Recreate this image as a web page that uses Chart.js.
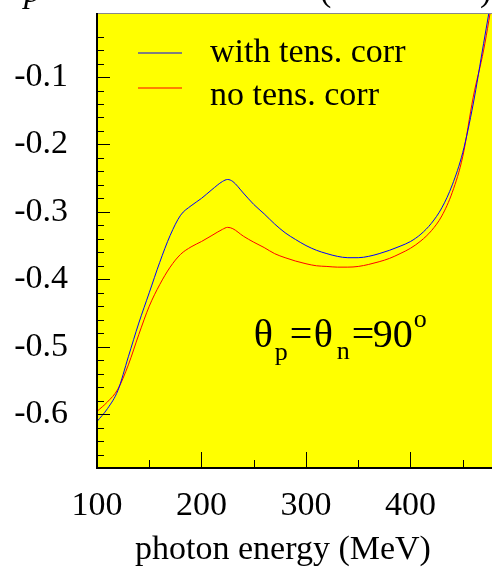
<!DOCTYPE html>
<html>
<head>
<meta charset="utf-8">
<script src="https://cdn.jsdelivr.net/npm/chart.js@4"></script>
<style>
  html, body { margin: 0; padding: 0; background: #fff; }
</style>
</head>
<body>
<canvas id="chart" width="492" height="569"></canvas>
<script>
// photon energy (MeV) and the two asymmetry curves
const energies = [100, 110, 120, 130, 140, 150, 160, 170, 180, 190, 200, 210, 220, 225, 230, 240, 250, 260, 270, 280, 290,
  300, 310, 320, 330, 340, 350, 360, 370, 380, 390, 400, 410, 420, 430, 440, 450, 460, 470, 480];
const withTensCorr = [-0.611, -0.592, -0.565, -0.515, -0.465, -0.420, -0.375, -0.335, -0.305, -0.291, -0.280, -0.267, -0.255, -0.252, -0.255, -0.272, -0.289, -0.303, -0.318, -0.331, -0.341,
  -0.350, -0.357, -0.362, -0.366, -0.368, -0.368, -0.366, -0.362, -0.357, -0.351, -0.344, -0.333, -0.317, -0.294, -0.260, -0.212, -0.140, -0.050, 0.040];
const noTensCorr = [-0.596, -0.582, -0.563, -0.527, -0.482, -0.440, -0.408, -0.382, -0.363, -0.352, -0.344, -0.335, -0.326, -0.323, -0.325, -0.336, -0.345, -0.353, -0.362, -0.368, -0.373,
  -0.377, -0.380, -0.381, -0.382, -0.382, -0.381, -0.378, -0.374, -0.369, -0.362, -0.354, -0.343, -0.328, -0.306, -0.271, -0.218, -0.130, -0.060, 0.030];

const xTicks = [100, 200, 300, 400];
const xMinorTicks = [150, 250, 350, 450];
const yTicks = [-0.6, -0.5, -0.4, -0.3, -0.2, -0.1];
const yMinorTicks = [-0.66, -0.64, -0.62, -0.58, -0.56, -0.54, -0.52, -0.48, -0.46, -0.44, -0.42, -0.38, -0.36, -0.34, -0.32,
  -0.28, -0.26, -0.24, -0.22, -0.18, -0.16, -0.14, -0.12, -0.08, -0.06, -0.04];

const SERIF = "'Liberation Serif', 'Times New Roman', serif";

const framePlugin = {
  id: 'frame',
  beforeDraw(chart) {
    const { ctx, chartArea: a } = chart;
    ctx.save();
    ctx.fillStyle = '#ffff00';
    ctx.fillRect(a.left, a.top, a.right - a.left, a.bottom - a.top);
    ctx.restore();
  },
  afterDatasetsDraw(chart) {
    const { ctx, chartArea: a } = chart;
    const xs = chart.scales.x, ys = chart.scales.y;
    ctx.save();
    ctx.strokeStyle = '#000';
    ctx.lineWidth = 1;
    ctx.beginPath();
    yTicks.forEach(v => { const y = Math.round(ys.getPixelForValue(v)) + 0.5; ctx.moveTo(a.left, y); ctx.lineTo(a.left + 13, y); });
    yMinorTicks.forEach(v => { const y = Math.round(ys.getPixelForValue(v)) + 0.5; ctx.moveTo(a.left, y); ctx.lineTo(a.left + 7, y); });
    xTicks.forEach(v => { const x = Math.round(xs.getPixelForValue(v)) + 0.5; ctx.moveTo(x, a.bottom); ctx.lineTo(x, a.bottom - 16); });
    xMinorTicks.forEach(v => { const x = Math.round(xs.getPixelForValue(v)) + 0.5; ctx.moveTo(x, a.bottom); ctx.lineTo(x, a.bottom - 8); });
    ctx.stroke();

    // frame: gray top, black left and bottom
    ctx.strokeStyle = '#888';
    ctx.beginPath();
    ctx.moveTo(a.left, a.top + 0.5);
    ctx.lineTo(a.right, a.top + 0.5);
    ctx.stroke();
    ctx.strokeStyle = '#000';
    ctx.lineWidth = 2;
    ctx.beginPath();
    ctx.moveTo(a.left, a.top);
    ctx.lineTo(a.left, a.bottom);
    ctx.lineTo(a.right, a.bottom);
    ctx.stroke();
    ctx.restore();
  },
  afterDraw(chart) {
    const { ctx } = chart;
    const xs = chart.scales.x, ys = chart.scales.y;
    ctx.save();
    ctx.fillStyle = '#000';
    ctx.textBaseline = 'alphabetic';

    // legend
    const legend = [
      { text: 'with tens. corr', color: '#0000ff', lineY: 53, textY: 62 },
      { text: 'no tens. corr', color: '#ff0000', lineY: 88, textY: 105 }
    ];
    ctx.font = '34px ' + SERIF;
    legend.forEach(item => {
      ctx.strokeStyle = item.color;
      ctx.lineWidth = 1;
      ctx.beginPath();
      ctx.moveTo(138, item.lineY);
      ctx.lineTo(182, item.lineY);
      ctx.stroke();
      ctx.fillText(item.text, 210, item.textY);
    });

    // angle annotation, anchored in data space
    const ax = xs.getPixelForValue(250);
    const ay = ys.getPixelForValue(-0.5);
    const big = '40px ' + SERIF, small = '26px ' + SERIF;
    const parts = [
      { t: '\u03b8', f: big, dx: 0, dy: 0 },
      { t: 'p', f: small, dx: 21, dy: 13 },
      { t: '=', f: big, dx: 36, dy: 0 },
      { t: '\u03b8', f: big, dx: 60, dy: 0 },
      { t: 'n', f: small, dx: 83, dy: 12 },
      { t: '=', f: big, dx: 98, dy: 0 },
      { t: '90', f: big, dx: 119, dy: 0 },
      { t: 'o', f: small, dx: 160, dy: -20 }
    ];
    parts.forEach(p => { ctx.font = p.f; ctx.fillText(p.t, ax + p.dx, ay + p.dy); });

    // axis title
    ctx.font = '34px ' + SERIF;
    ctx.textAlign = 'center';
    ctx.fillText('photon energy (MeV)', 283, 559);

    // top title, mostly cut off by the page edge
    ctx.textAlign = 'left';
    ctx.font = 'italic 34px ' + SERIF;
    ctx.fillText('p', 24, 2);
    ctx.font = '34px ' + SERIF;
    ctx.fillText('(', 320, 1);
    ctx.fillText(')', 480, 1);
    ctx.restore();
  }
};

new Chart(document.getElementById('chart'), {
  type: 'line',
  data: {
    datasets: [
      {
        label: 'with tens. corr',
        data: energies.map((e, i) => ({ x: e, y: withTensCorr[i] })),
        borderColor: '#0000ff',
        borderWidth: 1,
        pointRadius: 0,
        fill: false,
        cubicInterpolationMode: 'monotone'
      },
      {
        label: 'no tens. corr',
        data: energies.map((e, i) => ({ x: e, y: noTensCorr[i] })),
        borderColor: '#ff0000',
        borderWidth: 1,
        pointRadius: 0,
        fill: false,
        cubicInterpolationMode: 'monotone'
      }
    ]
  },
  options: {
    responsive: false,
    animation: false,
    devicePixelRatio: 1,
    layout: { padding: { top: 13, right: 0, left: 0, bottom: 0 } },
    plugins: { legend: { display: false }, tooltip: { enabled: false } },
    scales: {
      x: {
        type: 'linear',
        min: 100,
        max: 478,
        afterBuildTicks: s => { s.ticks = xTicks.map(v => ({ value: v })); },
        afterFit: s => { s.height = 101; s.paddingLeft = 0; s.paddingRight = 0; },
        grid: { display: false, drawTicks: false },
        border: { display: false },
        ticks: { font: { family: SERIF, size: 34 }, color: '#000', padding: 18, maxRotation: 0, autoSkip: false }
      },
      y: {
        type: 'linear',
        min: -0.68,
        max: -0.005,
        afterBuildTicks: s => { s.ticks = yTicks.map(v => ({ value: v })); },
        afterFit: s => { s.width = 97; s.paddingTop = 0; s.paddingBottom = 0; },
        grid: { display: false, drawTicks: false },
        border: { display: false },
        ticks: { font: { family: SERIF, size: 34 }, color: '#000', padding: 29, autoSkip: false, callback: v => v.toFixed(1) }
      }
    }
  },
  plugins: [framePlugin]
});
</script>
</body>
</html>
